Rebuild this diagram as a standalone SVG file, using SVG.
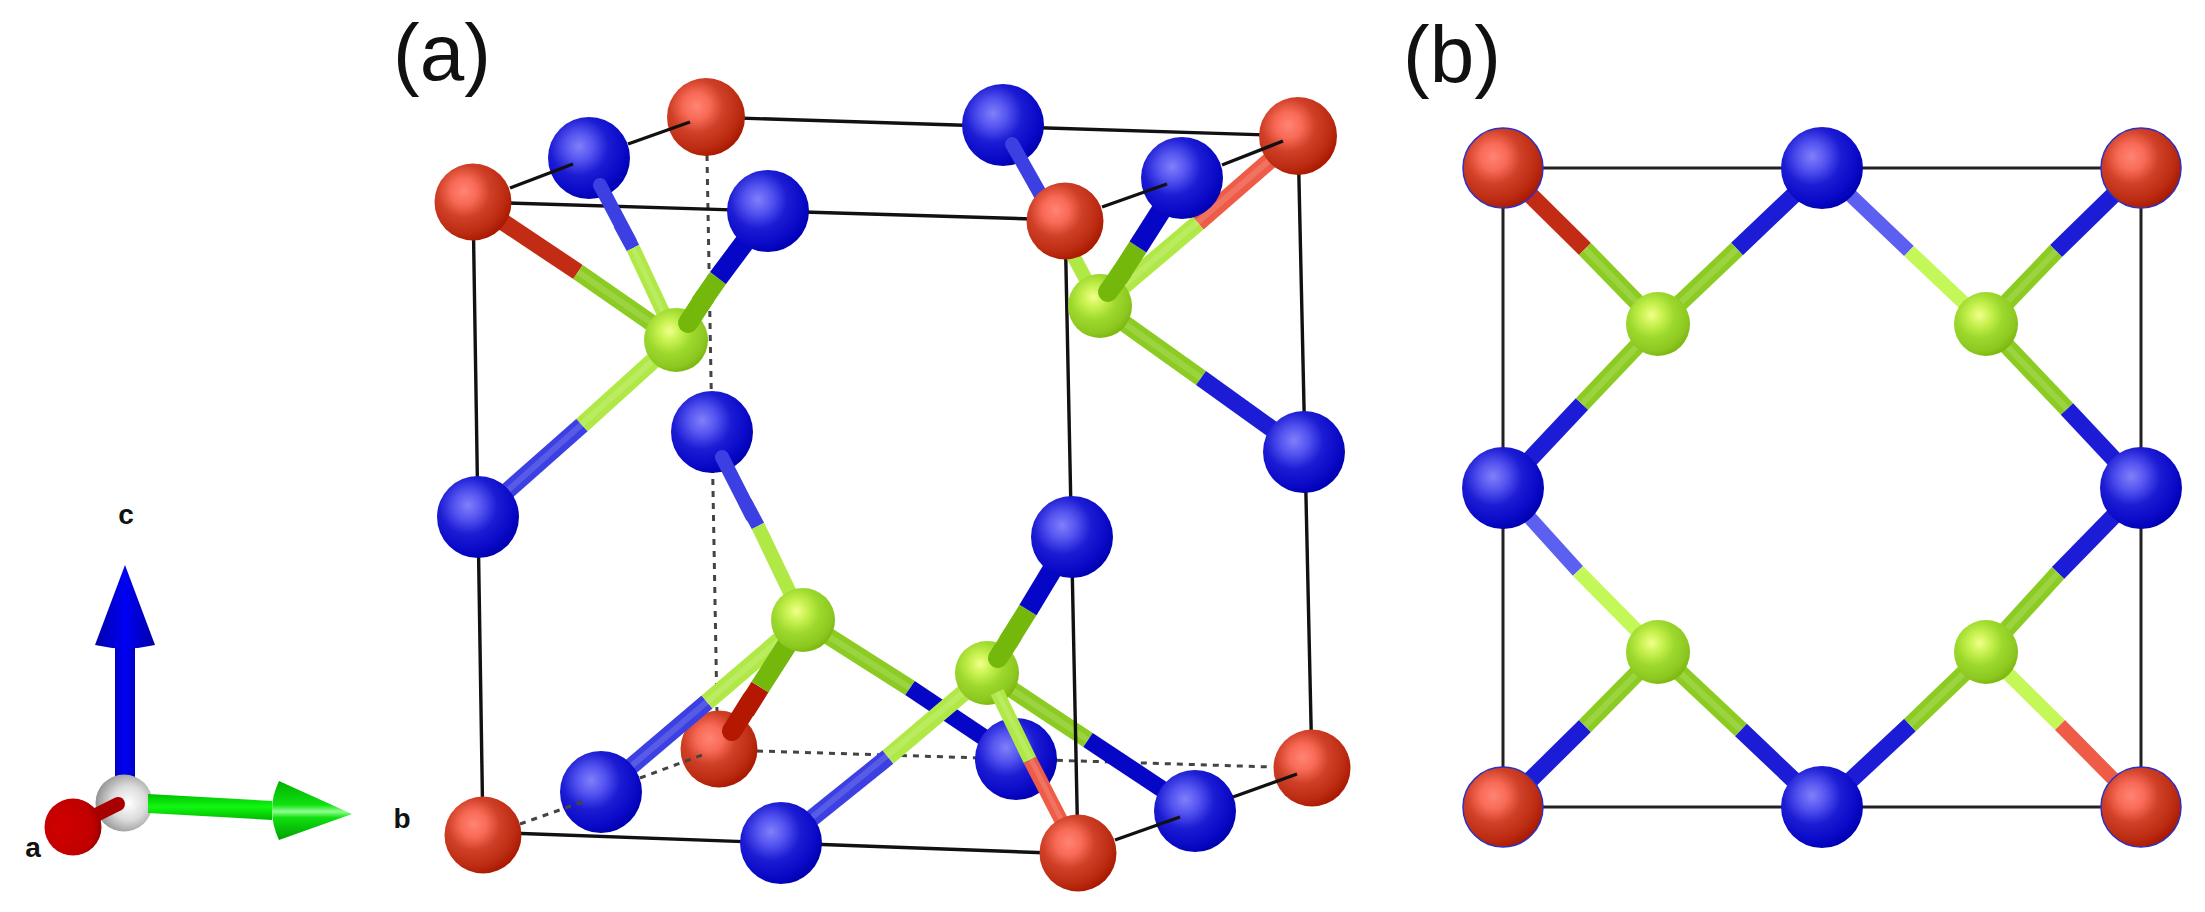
<svg xmlns="http://www.w3.org/2000/svg" width="2205" height="912" viewBox="0 0 2205 912">
<defs>
<radialGradient id="gr" cx=".38" cy=".36" r=".68"><stop offset="0" stop-color="#ff8474"/><stop offset=".25" stop-color="#f86a56"/><stop offset=".5" stop-color="#d04028"/><stop offset=".8" stop-color="#bc2c12"/><stop offset="1" stop-color="#a81800"/></radialGradient>
<radialGradient id="gb" cx=".38" cy=".36" r=".68"><stop offset="0" stop-color="#8080fa"/><stop offset=".25" stop-color="#5454f0"/><stop offset=".52" stop-color="#1c1cd4"/><stop offset=".8" stop-color="#0a0ac8"/><stop offset="1" stop-color="#0000b0"/></radialGradient>
<radialGradient id="gg" cx=".4" cy=".36" r=".66"><stop offset="0" stop-color="#f2ff8c"/><stop offset=".25" stop-color="#c8f250"/><stop offset=".55" stop-color="#9cd82c"/><stop offset=".85" stop-color="#8cc820"/><stop offset="1" stop-color="#7cb810"/></radialGradient>
<radialGradient id="gw" cx=".58" cy=".5" r=".6"><stop offset="0" stop-color="#ffffff"/><stop offset=".5" stop-color="#dcdcdc"/><stop offset="1" stop-color="#8c8c8c"/></radialGradient>
<radialGradient id="gd" cx=".3" cy=".5" r=".8"><stop offset="0" stop-color="#d00000"/><stop offset=".7" stop-color="#c00000"/><stop offset="1" stop-color="#800000"/></radialGradient>
<linearGradient id="gs" x1="0" x2="1" y1="0" y2="0"><stop offset="0" stop-color="#0000c8"/><stop offset=".5" stop-color="#0000f4"/><stop offset="1" stop-color="#0000c8"/></linearGradient>
<linearGradient id="gc" x1="0" x2="1" y1="0" y2="0"><stop offset="0" stop-color="#0000a8"/><stop offset=".5" stop-color="#0000f4"/><stop offset="1" stop-color="#0000a8"/></linearGradient>
<linearGradient id="gh" x1="0" x2="0" y1="0" y2="1"><stop offset="0" stop-color="#00c000"/><stop offset=".5" stop-color="#10f810"/><stop offset="1" stop-color="#00b800"/></linearGradient>
<linearGradient id="gk" x1="0" x2="0" y1="0" y2="1"><stop offset="0" stop-color="#00b000"/><stop offset=".4" stop-color="#10e010"/><stop offset=".52" stop-color="#90ff90"/><stop offset=".62" stop-color="#10e010"/><stop offset="1" stop-color="#00a000"/></linearGradient>
</defs>
<style>
.r{fill:url(#gr)}.b{fill:url(#gb)}.g{fill:url(#gg)}
.o{stroke:#3030c0;stroke-width:1.5}
line{fill:none}
.k{stroke:#111;stroke-width:3.4}
.kt{stroke:#222;stroke-width:3}
.d{stroke:#444;stroke-width:3;stroke-dasharray:6 6}
.w20{stroke-width:20}.w17{stroke-width:17}.w14{stroke-width:14}
.R1{stroke:#c22c14}.R2{stroke:#b41800}.R3{stroke:#ee5c48}
.B0{stroke:#5c60f0}.B1{stroke:#3c40e2}.B2{stroke:#1c1cd6}.B3{stroke:#0606c6}
.G0{stroke:#c4f858}.G1{stroke:#b0e846}.G2{stroke:#8ccc22}.G3{stroke:#74b80c}
.h{stroke:#fff;stroke-opacity:.14;stroke-width:6}
.t{font-family:"Liberation Sans",Arial,sans-serif;fill:#111}
.big{font-size:80px}.sm{font-size:28px;font-weight:bold;text-anchor:middle}
</style>

<rect width="2205" height="912" fill="#fff"/>

<g id="labels">
<text class="t big" x="393" y="80">(a)</text>
<text class="t big" x="1403" y="82">(b)</text>
<text class="t sm" x="126" y="524">c</text>
<text class="t sm" x="33" y="857">a</text>
<text class="t sm" x="402" y="828">b</text>
</g>

<g id="axes">
<rect id="axis-c-shaft" x="115" y="640" width="20" height="140" fill="url(#gs)"/>
<path id="axis-c-head" d="M125 565L155 645Q125 652 95 645Z" fill="url(#gc)"/>
<circle id="axis-origin" cx="124" cy="803" r="28.5" fill="url(#gw)"/>
<line x1="118" y1="804" x2="90" y2="818" stroke="#a80000" stroke-width="14" stroke-linecap="round"/>
<circle id="axis-a" cx="73" cy="827" r="28.5" fill="url(#gd)"/>
<path id="axis-b-shaft" d="M148 794L272 801L272 820L148 813Z" fill="url(#gh)"/>
<path id="axis-b-head" d="M279 781Q265 810 279 840L352 814Z" fill="url(#gk)"/>
</g>

<g id="connectors-back">
<line class="d" x1="707" y1="155" x2="717" y2="712"/>
<line class="d" x1="757" y1="751" x2="1272" y2="767"/>
<g><line class="G2 w17" x1="987" y1="673" x2="1088" y2="740"/><line class="B3 w17" x1="1088" y1="740" x2="1195" y2="811"/><line class="h" x1="987" y1="673" x2="1088" y2="740"/></g>
<line class="k" x1="706" y1="117" x2="1298" y2="136"/>
<line class="k" x1="473" y1="202" x2="1065" y2="220"/>
<line class="k" x1="473" y1="202" x2="483" y2="835"/>
<line class="k" x1="1065" y1="220" x2="1078" y2="853"/>
<line class="k" x1="1298" y1="136" x2="1312" y2="768"/>
<line class="k" x1="483" y1="832" x2="1078" y2="854"/>
<line class="kt" x1="1503" y1="168" x2="2141" y2="168"/>
<line class="kt" x1="1503" y1="807" x2="2141" y2="807"/>
<line class="kt" x1="1503" y1="168" x2="1503" y2="807"/>
<line class="kt" x1="2141" y1="168" x2="2141" y2="807"/>
</g>

<g id="nodes-1">
<g id="a-n1"><circle class="b" cx="589" cy="158" r="41"/></g>
<g id="a-n2"><circle class="b" cx="1003" cy="125" r="41"/></g>
<g id="a-n3"><circle class="b" cx="712" cy="432" r="41"/></g>
<g id="a-o1"><circle class="r" cx="719" cy="749" r="38.5"/></g>
</g>

<g id="connectors-mid">
<g><line class="R1 w17" x1="473" y1="202" x2="578" y2="272"/><line class="G2 w17" x1="578" y1="272" x2="676" y2="340"/><line class="h" x1="578" y1="272" x2="676" y2="340"/></g>
<g stroke-linecap="round"><line class="B1 w14" x1="600" y1="185" x2="630" y2="242"/></g>
<g><line class="B1 w14" x1="620" y1="224" x2="633" y2="248"/><line class="G1 w14" x1="633" y1="248" x2="676" y2="340"/><line class="h" x1="633" y1="248" x2="676" y2="340" style="stroke-width:5"/></g>
<g><line class="B1 w17" x1="478" y1="517" x2="582" y2="425"/><line class="G1 w17" x1="582" y1="425" x2="676" y2="340"/><line class="h" x1="478" y1="517" x2="676" y2="340"/></g>
<g><line class="R3 w17" x1="1298" y1="136" x2="1198" y2="223"/><line class="G1 w17" x1="1198" y1="223" x2="1100" y2="306"/><line class="h" x1="1298" y1="136" x2="1100" y2="306"/></g>
<g stroke-linecap="round"><line class="B1 w14" x1="1012" y1="144" x2="1047" y2="206"/></g>
<g><line class="B1 w14" x1="1040" y1="194" x2="1050" y2="212"/><line class="G1 w14" x1="1050" y1="212" x2="1100" y2="306"/></g>
<g><line class="G2 w17" x1="1100" y1="306" x2="1201" y2="378"/><line class="B2 w17" x1="1201" y1="378" x2="1304" y2="452"/><line class="h" x1="1100" y1="306" x2="1201" y2="378"/></g>
<g stroke-linecap="round"><line class="B1 w14" x1="722" y1="457" x2="752" y2="516"/></g>
<g><line class="B1 w14" x1="745" y1="502" x2="758" y2="526"/><line class="G1 w14" x1="758" y1="526" x2="803" y2="620"/></g>
<g><line class="B1 w17" x1="601" y1="792" x2="707" y2="702"/><line class="G1 w17" x1="707" y1="702" x2="803" y2="620"/><line class="h" x1="601" y1="792" x2="803" y2="620"/></g>
<g stroke-linecap="round"><line class="R2 w20" x1="732" y1="731" x2="752" y2="699"/></g>
<g><line class="R2 w20" x1="745" y1="711" x2="760" y2="687"/><line class="G3 w20" x1="760" y1="687" x2="803" y2="620"/></g>
<g><line class="G2 w17" x1="803" y1="620" x2="910" y2="688"/><line class="B3 w17" x1="910" y1="688" x2="1016" y2="759"/><line class="h" x1="803" y1="620" x2="910" y2="688"/></g>
<g><line class="B1 w17" x1="781" y1="843" x2="888" y2="757"/><line class="G1 w17" x1="888" y1="757" x2="987" y2="673"/><line class="h" x1="781" y1="843" x2="987" y2="673"/></g>
</g>

<g id="nodes-2">
<g id="a-n4"><circle class="b" cx="1016" cy="759" r="41"/></g>
<g id="a-s1"><circle class="g" cx="676" cy="340" r="32"/></g>
<g id="a-s2"><circle class="g" cx="1100" cy="306" r="32"/></g>
<g id="a-s3"><circle class="g" cx="803" cy="620" r="32"/></g>
<g id="a-s4"><circle class="g" cx="987" cy="673" r="32"/></g>
</g>

<g id="connectors-front">
<g stroke-linecap="round"><line class="G3 w20" x1="688" y1="323" x2="705" y2="297"/></g>
<g><line class="G3 w20" x1="700" y1="304" x2="718" y2="278"/><line class="B3 w20" x1="718" y1="278" x2="768" y2="211"/></g>
<g stroke-linecap="round"><line class="G3 w20" x1="1108" y1="292" x2="1122" y2="272"/></g>
<g><line class="G3 w20" x1="1118" y1="278" x2="1138" y2="247"/><line class="B3 w20" x1="1138" y1="247" x2="1182" y2="178"/></g>
<g stroke-linecap="round"><line class="G3 w20" x1="998" y1="658" x2="1012" y2="636"/></g>
<g><line class="G3 w20" x1="1008" y1="642" x2="1028" y2="610"/><line class="B3 w20" x1="1028" y1="610" x2="1072" y2="537"/></g>
<g><line class="G1 w14" x1="997" y1="692" x2="1030" y2="760"/><line class="R3 w14" x1="1030" y1="760" x2="1078" y2="853"/><line class="h" x1="997" y1="692" x2="1078" y2="853" style="stroke-width:5"/></g>
<g><line class="R1 w17" x1="1503" y1="168" x2="1585" y2="249"/><line class="G2 w17" x1="1585" y1="249" x2="1658" y2="324"/><line class="h" x1="1585" y1="249" x2="1658" y2="324"/></g>
<g><line class="B2 w17" x1="1822" y1="168" x2="1737" y2="249"/><line class="G2 w17" x1="1737" y1="249" x2="1658" y2="324"/><line class="h" x1="1737" y1="249" x2="1658" y2="324"/></g>
<g><line class="B2 w17" x1="1503" y1="488" x2="1582" y2="404"/><line class="G2 w17" x1="1582" y1="404" x2="1658" y2="324"/><line class="h" x1="1582" y1="404" x2="1658" y2="324"/></g>
<g><line class="B0 w14" x1="1822" y1="168" x2="1909" y2="251"/><line class="G0 w14" x1="1909" y1="251" x2="1986" y2="324"/></g>
<g><line class="B2 w17" x1="2141" y1="168" x2="2056" y2="251"/><line class="G2 w17" x1="2056" y1="251" x2="1986" y2="324"/><line class="h" x1="2056" y1="251" x2="1986" y2="324"/></g>
<g><line class="G2 w17" x1="1986" y1="324" x2="2067" y2="409"/><line class="B2 w17" x1="2067" y1="409" x2="2141" y2="488"/><line class="h" x1="1986" y1="324" x2="2067" y2="409"/></g>
<g><line class="B0 w14" x1="1503" y1="488" x2="1578" y2="571"/><line class="G0 w14" x1="1578" y1="571" x2="1658" y2="652"/></g>
<g><line class="B2 w17" x1="1503" y1="807" x2="1585" y2="726"/><line class="G2 w17" x1="1585" y1="726" x2="1658" y2="652"/><line class="h" x1="1585" y1="726" x2="1658" y2="652"/></g>
<g><line class="G2 w17" x1="1658" y1="652" x2="1741" y2="730"/><line class="B2 w17" x1="1741" y1="730" x2="1822" y2="807"/><line class="h" x1="1658" y1="652" x2="1741" y2="730"/></g>
<g><line class="B2 w17" x1="2141" y1="488" x2="2058" y2="573"/><line class="G2 w17" x1="2058" y1="573" x2="1986" y2="652"/><line class="h" x1="2058" y1="573" x2="1986" y2="652"/></g>
<g><line class="B2 w17" x1="1822" y1="807" x2="1910" y2="725"/><line class="G2 w17" x1="1910" y1="725" x2="1986" y2="652"/><line class="h" x1="1910" y1="725" x2="1986" y2="652"/></g>
<g><line class="G0 w14" x1="1986" y1="652" x2="2060" y2="725"/><line class="R3 w14" x1="2060" y1="725" x2="2141" y2="807"/></g>
</g>

<g id="nodes-3">
<g id="a-n5"><circle class="b" cx="768" cy="211" r="41"/></g>
<g id="a-n6"><circle class="b" cx="1182" cy="178" r="41"/></g>
<g id="a-n7"><circle class="b" cx="1072" cy="537" r="41"/></g>
<g id="a-n8"><circle class="b" cx="478" cy="517" r="41"/></g>
<g id="a-n9"><circle class="b" cx="1304" cy="452" r="41"/></g>
<g id="a-n10"><circle class="b" cx="601" cy="792" r="41"/></g>
<g id="a-n11"><circle class="b" cx="781" cy="843" r="41"/></g>
<g id="a-n12"><circle class="b" cx="1195" cy="811" r="41"/></g>
<g id="a-o2"><circle class="r" cx="473" cy="202" r="38.5"/></g>
<g id="a-o3"><circle class="r" cx="706" cy="117" r="39"/></g>
<g id="a-o4"><circle class="r" cx="1065" cy="221" r="38.5"/></g>
<g id="a-o5"><circle class="r" cx="1298" cy="136" r="39"/></g>
<g id="a-o6"><circle class="r" cx="483" cy="835" r="38.5"/></g>
<g id="a-o7"><circle class="r" cx="1078" cy="853" r="38.5"/></g>
<g id="a-o8"><circle class="r" cx="1312" cy="768" r="38.5"/></g>
<g id="b-o1"><circle class="r o" cx="1503" cy="168" r="40"/></g>
<g id="b-o2"><circle class="r o" cx="2141" cy="168" r="40"/></g>
<g id="b-o3"><circle class="r o" cx="1503" cy="807" r="40"/></g>
<g id="b-o4"><circle class="r o" cx="2141" cy="807" r="40"/></g>
<g id="b-n1"><circle class="b" cx="1822" cy="168" r="41"/></g>
<g id="b-n2"><circle class="b" cx="1503" cy="488" r="41"/></g>
<g id="b-n3"><circle class="b" cx="2141" cy="488" r="41"/></g>
<g id="b-n4"><circle class="b" cx="1822" cy="807" r="41"/></g>
<g id="b-s1"><circle class="g" cx="1658" cy="324" r="32"/></g>
<g id="b-s2"><circle class="g" cx="1986" cy="324" r="32"/></g>
<g id="b-s3"><circle class="g" cx="1658" cy="652" r="32"/></g>
<g id="b-s4"><circle class="g" cx="1986" cy="652" r="32"/></g>
</g>

<g id="connectors-top">
<line class="k" x1="510" y1="188" x2="573" y2="164"/>
<line class="k" x1="628" y1="144" x2="690" y2="122"/>
<line class="k" x1="1102" y1="207" x2="1167" y2="184"/>
<line class="k" x1="1222" y1="165" x2="1283" y2="141"/>
<line class="k" x1="1115" y1="840" x2="1180" y2="817"/>
<line class="k" x1="1233" y1="797" x2="1297" y2="774"/>
<line class="d" x1="520" y1="824" x2="585" y2="801"/>
<line class="d" x1="640" y1="778" x2="705" y2="754"/>
</g>
</svg>
